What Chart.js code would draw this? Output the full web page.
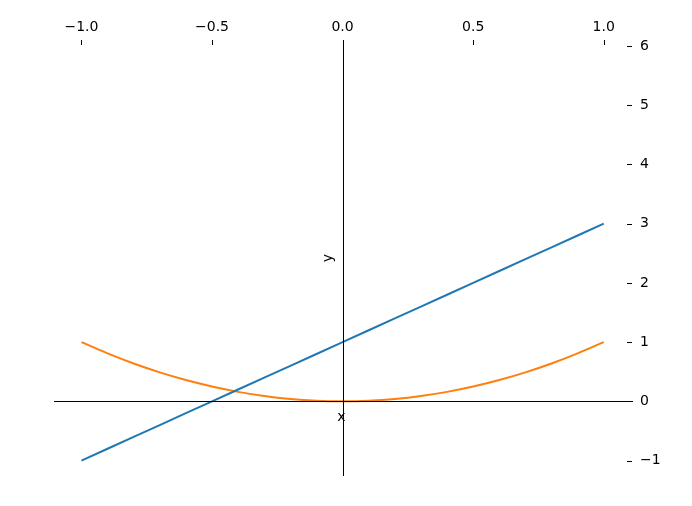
<!DOCTYPE html>
<html>
<head>
<meta charset="utf-8">
<script src="https://cdn.jsdelivr.net/npm/chart.js@4"></script>
<style>
  html, body { margin: 0; padding: 0; background: #fff; }
</style>
</head>
<body>
<canvas id="chart" width="692" height="506"></canvas>
<script>
// values
const xValues = [-1, -0.9, -0.8, -0.7, -0.6, -0.5, -0.4, -0.3, -0.2, -0.1, 0,
                 0.1, 0.2, 0.3, 0.4, 0.5, 0.6, 0.7, 0.8, 0.9, 1];
const lineValues = [-1, -0.8, -0.6, -0.4, -0.2, 0, 0.2, 0.4, 0.6, 0.8, 1,
                    1.2, 1.4, 1.6, 1.8, 2, 2.2, 2.4, 2.6, 2.8, 3];
const curveValues = [1, 0.81, 0.64, 0.49, 0.36, 0.25, 0.16, 0.09, 0.04, 0.01, 0,
                     0.01, 0.04, 0.09, 0.16, 0.25, 0.36, 0.49, 0.64, 0.81, 1];
const xTicks = [-1, -0.5, 0, 0.5, 1];
const yTicks = [-1, 0, 1, 2, 3, 4, 5, 6];
const xLabel = 'x';
const yLabel = 'y';

const FONT = 'DejaVu Sans';
const minus = s => s.replace('-', '\u2212');

const toPoints = ys => xValues.map((x, i) => ({ x: x, y: ys[i] }));

// spines through zero, small tick marks, axis labels
const spinesPlugin = {
  id: 'spines',
  afterDatasetsDraw(chart) {
    const { ctx, chartArea: a, scales } = chart;
    const x0 = Math.round(scales.x.getPixelForValue(0)) + 0.5;
    const y0 = Math.round(scales.y.getPixelForValue(0)) + 0.5;
    ctx.save();
    ctx.strokeStyle = '#000';
    ctx.lineWidth = 1;
    ctx.beginPath();
    ctx.moveTo(a.left, y0);
    ctx.lineTo(a.right, y0);
    ctx.moveTo(x0, a.top);
    ctx.lineTo(x0, a.bottom);
    ctx.stroke();

    // tick marks
    ctx.beginPath();
    xTicks.forEach(v => {
      const px = Math.round(scales.x.getPixelForValue(v)) + 0.5;
      ctx.moveTo(px, a.top);
      ctx.lineTo(px, a.top + 5);
    });
    yTicks.forEach(v => {
      const py = Math.round(scales.y.getPixelForValue(v)) + 0.5;
      ctx.moveTo(a.right - 6, py);
      ctx.lineTo(a.right - 1, py);
    });
    ctx.stroke();

    ctx.fillStyle = '#000';
    ctx.font = '14px "' + FONT + '"';
    ctx.textAlign = 'center';
    ctx.textBaseline = 'alphabetic';
    ctx.fillText(xLabel, (a.left + a.right) / 2 - 2, y0 + 19);
    ctx.translate(x0 - 12, (a.top + a.bottom) / 2);
    ctx.rotate(-Math.PI / 2);
    ctx.fillText(yLabel, 0, 0);
    ctx.restore();
  }
};

new Chart(document.getElementById('chart'), {
  type: 'line',
  data: {
    datasets: [
      {
        data: toPoints(lineValues),
        borderColor: '#1f77b4',
        borderWidth: 2,
        pointRadius: 0
      },
      {
        data: toPoints(curveValues),
        borderColor: '#ff7f0e',
        borderWidth: 2,
        pointRadius: 0,
        cubicInterpolationMode: 'monotone'
      }
    ]
  },
  options: {
    responsive: false,
    animation: false,
    layout: { padding: { left: 54, right: 0, top: 0, bottom: 30 } },
    plugins: {
      legend: { display: false },
      tooltip: { enabled: false }
    },
    scales: {
      x: {
        type: 'linear',
        position: 'top',
        min: -1.105,
        max: 1.112,
        grid: { display: false, drawTicks: false },
        border: { display: false },
        afterBuildTicks: s => { s.ticks = xTicks.map(v => ({ value: v })); },
        afterFit: s => { s.height = 40; },
        ticks: {
          padding: 4,
          color: '#000',
          font: { family: FONT, size: 14 },
          maxRotation: 0,
          callback: v => minus(v.toFixed(1))
        }
      },
      y: {
        type: 'linear',
        position: 'right',
        min: -1.26,
        max: 6.1,
        grid: { display: false, drawTicks: false },
        border: { display: false },
        afterBuildTicks: s => { s.ticks = yTicks.map(v => ({ value: v })); },
        afterFit: s => { s.width = 59; },
        ticks: {
          padding: 7,
          color: '#000',
          font: { family: FONT, size: 14 },
          callback: v => minus(String(v))
        }
      }
    }
  },
  plugins: [spinesPlugin]
});
</script>
</body>
</html>
